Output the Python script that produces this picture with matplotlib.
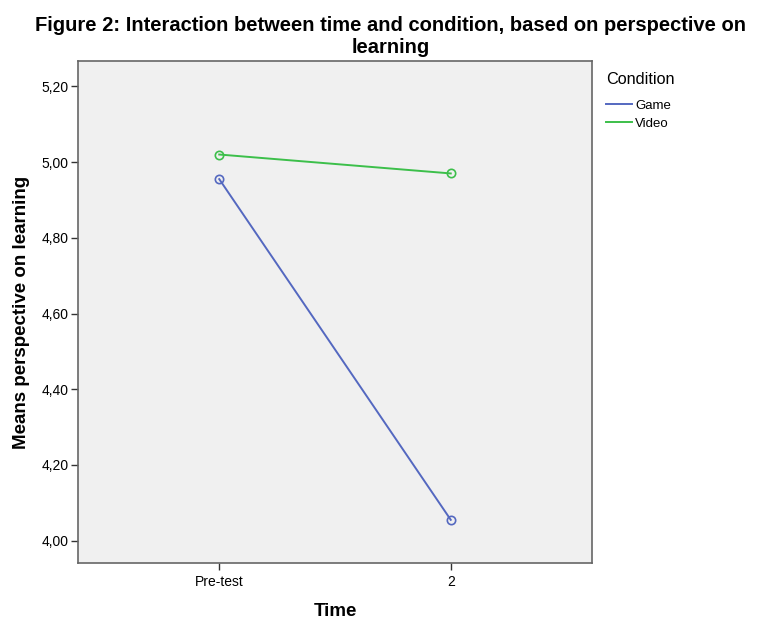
import matplotlib.pyplot as plt
from matplotlib.lines import Line2D

# values
time_labels = ["Pre-test", "2"]
game_means = [4.955, 4.055]
video_means = [5.02, 4.97]
y_ticks = [4.0, 4.2, 4.4, 4.6, 4.8, 5.0, 5.2]

game_color = "#5468c0"
video_color = "#3cbf4a"

plt.rcParams["font.family"] = ["Liberation Sans", "DejaVu Sans"]

fig = plt.figure(figsize=(7.71, 6.19), dpi=100)
ax = fig.add_axes([78 / 771, 1 - 563 / 619, 514 / 771, 502 / 619])
ax.set_facecolor("#f0f0f0")

x = list(range(len(time_labels)))
ax.plot(x, game_means, color=game_color, lw=1.4, marker="o", ms=6,
        mfc="none", mec=game_color, mew=1.2)
ax.plot(x, video_means, color=video_color, lw=1.4, marker="o", ms=6,
        mfc="none", mec=video_color, mew=1.2)

ax.set_xlim(-0.61, 1.61)
ax.set_ylim(3.941, 5.267)
ax.set_xticks(x)
ax.set_xticklabels(time_labels, fontsize=10)
ax.set_yticks(y_ticks)
ax.set_yticklabels([f"{v:.2f}".replace(".", ",") for v in y_ticks], fontsize=10)
ax.tick_params(length=5, width=1, color="#333333", pad=2)
ax.tick_params(axis="x", pad=4)

for s in ax.spines.values():
    s.set_color("#666666")
    s.set_linewidth(1.2)

ax.set_xlabel("Time", fontsize=13.5, fontweight="bold", labelpad=10)
ax.set_ylabel("Means perspective on learning", fontsize=13.5, fontweight="bold", labelpad=8)

fig.suptitle("Figure 2: Interaction between time and condition, based on perspective on\nlearning",
             x=0.507, y=0.974, fontsize=14.5, fontweight="bold", linespacing=1.18)

handles = [Line2D([], [], color=game_color, lw=1.4),
           Line2D([], [], color=video_color, lw=1.4)]
leg = fig.legend(handles, ["Game", "Video"], title="Condition", loc="upper left",
                 bbox_to_anchor=(594 / 771, 1 - 60 / 619), frameon=False,
                 fontsize=9.5, title_fontsize=11.7, handlelength=2.0,
                 handletextpad=0.2, labelspacing=0.45, alignment="left")
leg._legend_box.sep = 9

fig.savefig("out.png", dpi=100)
